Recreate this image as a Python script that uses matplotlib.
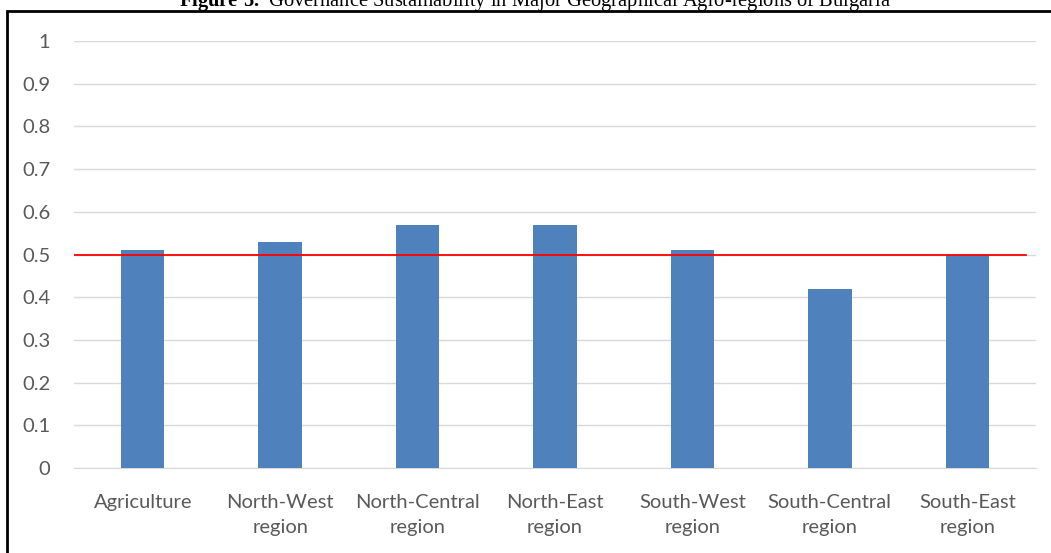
import numpy as np
import matplotlib.pyplot as plt
from matplotlib.patches import Rectangle

# governance sustainability index by agro-region
regions = ["Agriculture", "North-West\nregion", "North-Central\nregion", "North-East\nregion",
           "South-West\nregion", "South-Central\nregion", "South-East\nregion"]
scores = [0.51, 0.53, 0.57, 0.57, 0.51, 0.42, 0.50]
threshold = 0.5
yticks = [0, 0.1, 0.2, 0.3, 0.4, 0.5, 0.6, 0.7, 0.8, 0.9, 1]
ytick_labels = ["0", "0.1", "0.2", "0.3", "0.4", "0.5", "0.6", "0.7", "0.8", "0.9", "1"]

plt.rcParams["mathtext.fontset"] = "custom"
plt.rcParams["mathtext.rm"] = "Liberation Serif"
plt.rcParams["mathtext.bf"] = "Liberation Serif:bold"

W, H = 1051, 553
fig = plt.figure(figsize=(W / 100, H / 100), dpi=100)
ax = fig.add_axes([74 / W, 1 - 468 / H, (1036 - 74) / W, (468 - 41) / H])

x = np.arange(len(regions))
ax.bar(x, scores, width=0.315, color="#4F81BD", zorder=3)
ax.plot([-0.5, 6.43], [threshold, threshold], color="#FF0000", lw=1.3, zorder=4)

ax.set_xlim(-0.5, len(regions) - 0.5)
ax.set_ylim(0, 1)
ax.set_yticks(yticks)
ax.set_yticklabels(ytick_labels)
ax.set_xticks(x)
ax.set_xticklabels(regions, linespacing=1.55)
ax.grid(axis="y", color="#D9D9D9", lw=1, zorder=0)
for s in ["top", "right", "left"]:
    ax.spines[s].set_visible(False)
ax.spines["bottom"].set_color("#D9D9D9")
ax.tick_params(axis="both", length=0, labelsize=14.5, colors="#595959")
ax.tick_params(axis="y", pad=17)
ax.tick_params(axis="x", pad=19)
for lab in ax.get_xticklabels() + ax.get_yticklabels():
    lab.set_fontfamily("Lato")

# frame around the chart, running off the right and bottom edges
fig.add_artist(Rectangle((7 / W, -0.05), 1.1, 1 - 11 / H + 0.05, transform=fig.transFigure,
                         fill=False, edgecolor="black", lw=2))

fig.text(0.509, 1 - 6 / H,
         r"$\mathbf{Figure\ 5.}$ Governance Sustainability in Major Geographical Agro-regions of Bulgaria",
         ha="center", va="baseline", fontsize=14.8, family="Liberation Serif")

fig.savefig("out.png", dpi=100)
